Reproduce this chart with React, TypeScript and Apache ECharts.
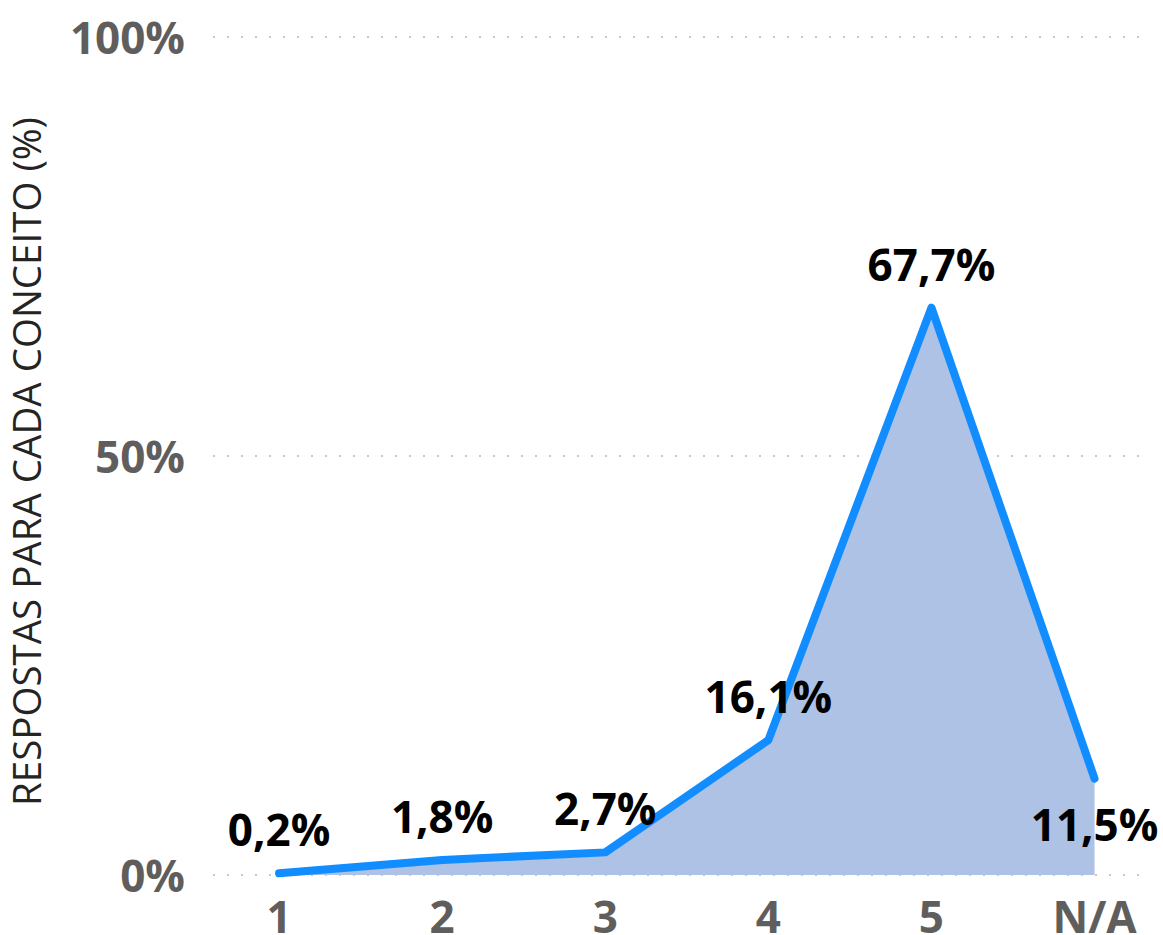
import React, { useEffect, useRef } from "react";
import * as echarts from "echarts";

const categories = ["1", "2", "3", "4", "5", "N/A"];
const values = [0.2, 1.8, 2.7, 16.1, 67.7, 11.5];
const yTicks = [0, 50, 100];
const yAxisTitle = "RESPOSTAS PARA CADA CONCEITO (%)";

const FONT = "'Open Sans', 'Noto Sans', sans-serif";

export default function App() {
  const ref = useRef<HTMLDivElement>(null);
  useEffect(() => {
    if (!ref.current) return;
    const chart = echarts.init(ref.current, null, { renderer: "svg" });
    const fmt = (v: number) => v.toFixed(1).replace(".", ",") + "%";
    const last = values.length - 1;
    chart.setOption({
      animation: false,
      grid: {
        left: 213,
        right: 13,
        top: 37,
        bottom: 60,
        containLabel: false,
        outerBoundsMode: "none",
      },
      xAxis: {
        type: "value",
        min: -0.405,
        max: 5.34,
        splitLine: { show: false },
        axisLine: { show: false },
        axisTick: { show: false },
        axisLabel: {
          customValues: categories.map((_, i) => i),
          formatter: (v: number) => categories[Math.round(v)] ?? "",
          color: "#605e5c",
          fontFamily: FONT,
          fontWeight: "bold",
          fontSize: 44,
          lineHeight: 36,
          margin: 23,
        },
      },
      yAxis: {
        type: "value",
        min: 0,
        max: 100,
        interval: 50,
        name: yAxisTitle,
        nameLocation: "middle",
        nameGap: 168,
        nameRotate: 90,
        nameTextStyle: {
          color: "#252423",
          fontFamily: FONT,
          fontSize: 38.5,
          padding: [0, 11, 0, 0],
        },
        axisLine: { show: false },
        axisTick: { show: false },
        axisLabel: {
          customValues: yTicks,
          formatter: (v: number) => v + "%",
          color: "#605e5c",
          fontFamily: FONT,
          fontWeight: "bold",
          fontSize: 44,
          margin: 28,
        },
        splitLine: {
          show: true,
          lineStyle: { color: "#c8c6c4", width: 2, type: [2, 12] },
        },
      },
      series: [
        {
          type: "line",
          data: values.map((v, i) =>
            i === last
              ? { value: [i, v], label: { position: "bottom", distance: 20 } }
              : { value: [i, v] }
          ),
          symbol: "circle",
          symbolSize: 6,
          showSymbol: true,
          itemStyle: { color: "#118dff", borderWidth: 0 },
          lineStyle: { color: "#118dff", width: 8, cap: "round", join: "round" },
          areaStyle: { color: "#adc2e4", opacity: 1 },
          label: {
            show: true,
            position: "top",
            distance: 19,
            formatter: (p: any) => fmt(p.value[1]),
            color: "#000000",
            fontFamily: FONT,
            fontWeight: "bold",
            fontSize: 44,
          },
          labelLayout: { hideOverlap: false },
          emphasis: { disabled: true },
        },
      ],
    });
    return () => chart.dispose();
  }, []);
  return <div ref={ref} style={{ width: 1163, height: 935, position: "absolute", left: 0, top: 0 }} />;
}
